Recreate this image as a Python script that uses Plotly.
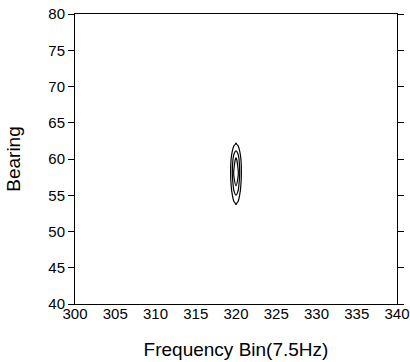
import plotly.graph_objects as go

# Grid coordinates (frequency bin, bearing) and intensity
freq_bins = [300, 318.5, 319.25, 319.5, 319.75, 320, 320.25, 320.5, 320.75, 321.5, 340]
bearings = [40, 50, 52, 54, 56, 58, 60, 62, 64, 66, 80]
intensity = [
    [0, 0, 0,     0,     0,     0,     0,     0,     0,     0, 0],
    [0, 0, 0.005, 0.014, 0.026, 0.032, 0.026, 0.014, 0.005, 0, 0],
    [0, 0, 0.040, 0.111, 0.204, 0.252, 0.204, 0.111, 0.040, 0, 0],
    [0, 0, 0.177, 0.496, 0.914, 1.128, 0.914, 0.496, 0.177, 0, 0],
    [0, 0, 0.444, 1.244, 2.291, 2.828, 2.291, 1.244, 0.444, 0, 0],
    [0, 0, 0.626, 1.755, 3.230, 3.988, 3.230, 1.755, 0.626, 0, 0],
    [0, 0, 0.496, 1.390, 2.560, 3.160, 2.560, 1.390, 0.496, 0, 0],
    [0, 0, 0.169, 0.475, 0.874, 1.080, 0.874, 0.475, 0.169, 0, 0],
    [0, 0, 0.043, 0.120, 0.222, 0.274, 0.222, 0.120, 0.043, 0, 0],
    [0, 0, 0.008, 0.023, 0.042, 0.052, 0.042, 0.023, 0.008, 0, 0],
    [0, 0, 0,     0,     0,     0,     0,     0,     0,     0, 0],
]
x_ticks = [300, 305, 310, 315, 320, 325, 330, 335, 340]
y_ticks = [40, 45, 50, 55, 60, 65, 70, 75, 80]

fig = go.Figure(go.Contour(
    x=freq_bins, y=bearings, z=intensity,
    contours=dict(start=1, end=3, size=1, coloring="lines"),
    colorscale=[[0, "black"], [1, "black"]],
    line=dict(width=1.2, smoothing=1.3),
    showscale=False, hoverinfo="skip",
))

font = "Liberation Sans, Arial, sans-serif"
fig.update_layout(
    width=410, height=362,
    margin=dict(l=75, r=13, t=14, b=58),
    paper_bgcolor="white", plot_bgcolor="white",
    font=dict(family=font, color="black", size=15),
    showlegend=False,
    xaxis=dict(
        range=[300, 340], tickvals=x_ticks, ticks="",
        showline=True, linecolor="black", linewidth=1,
        mirror=True, showgrid=False, zeroline=False, automargin=False,
        ticklabeloverflow="allow", ticklabelstandoff=-4,
        tickfont=dict(size=15),
        title=dict(text="Frequency Bin(7.5Hz)", font=dict(size=19), standoff=21),
    ),
    xaxis2=dict(
        overlaying="x", anchor="y", side="top", range=[300, 340],
        tickvals=x_ticks, ticks="outside", ticklen=5, tickcolor="black",
        showticklabels=False, showline=False, showgrid=False,
        zeroline=False, automargin=False,
    ),
    yaxis=dict(
        range=[40, 80], tickvals=y_ticks, ticks="outside", ticklen=6,
        tickcolor="black", showline=True, linecolor="black", linewidth=1,
        mirror="ticks", showgrid=False, zeroline=False, automargin=False,
        ticklabeloverflow="allow",
        tickfont=dict(size=15),
        title=dict(text="Bearing", font=dict(size=19), standoff=22),
    ),
)
fig.write_html(
    "out.html",
    config={"displayModeBar": False},
    post_script="document.body.style.margin='0';document.body.style.overflow='hidden';",
)
